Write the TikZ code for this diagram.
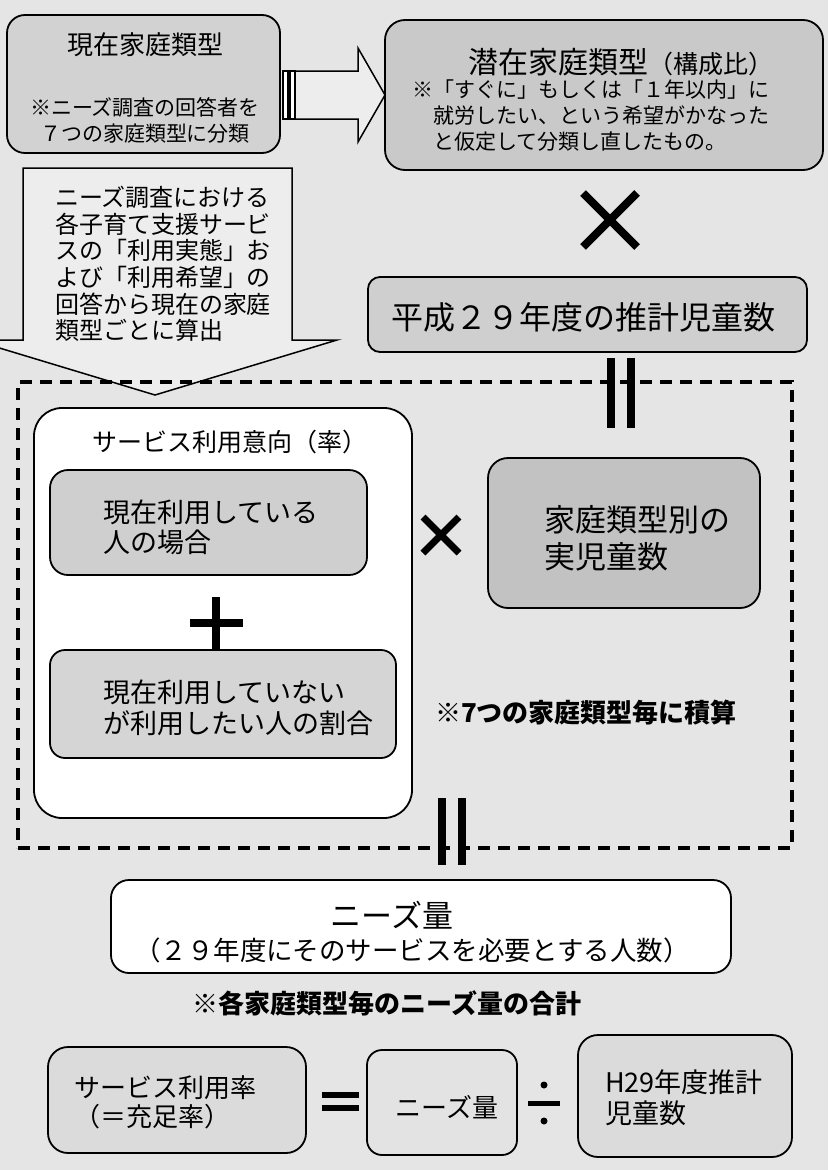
\documentclass[tikz,border=0pt]{standalone}
\usepackage{fontspec}
\setmainfont{Noto Sans CJK JP}
\usetikzlibrary{calc}
\definecolor{bgc}{gray}{0.90}
\begin{document}
\begin{tikzpicture}[x=1pt,y=-1pt,
  bx/.style={draw=black,line width=1.8pt,rounded corners=#1,inner sep=0pt,outer sep=0pt,anchor=north west},
  bx/.default=18pt,
  tx/.style={inner sep=0pt,outer sep=0pt,font=\fontsize{#1pt}{#1pt}\selectfont},
  ml/.style 2 args={inner sep=0pt,outer sep=0pt,font=\fontsize{#1pt}{#2pt}\selectfont},
  nb/.style={inner sep=0pt,outer sep=0pt,font=\fontsize{26pt}{26pt}\selectfont\bfseries},
  op/.style={line width=8pt},
  shp/.style={draw=black,line width=1.5pt,fill=bgc!70!white},
  grpbox/.style={draw=black,line width=3.5pt,dash pattern=on 12pt off 8pt,inner sep=0pt,outer sep=0pt,anchor=north west}
]
\useasboundingbox (0,0) rectangle (828,1170);
\fill[bgc] (0,0) rectangle (828,1170);
\begin{scope}
\clip (0,0) rectangle (828,1170);

% top boxes
\node[bx=18pt, fill=gray!35, minimum width=273pt, minimum height=138pt] (b1) at (7,15) {};
\node[tx=26] (t1) at (145,45) {現在家庭類型};
\node[ml={21}{26}, align=center] (t1s) at (145,120) {※ニーズ調査の回答者を\\７つの家庭類型に分類};

\node[bx=20pt, fill=gray!42, minimum width=438pt, minimum height=150pt] (b2) at (385,20) {};
\node[tx=30] (t2) at (621,62) {潜在家庭類型{\fontsize{25pt}{25pt}\selectfont（構成比）}};
\node[ml={21}{26}, align=left, anchor=west] (t2s) at (412,116) {※「すぐに」もしくは「１年以内」に\\\hspace*{1em}就労したい、という希望がかなった\\\hspace*{1em}と仮定して分類し直したもの。};

% block arrow b1 -> b2
\draw[shp] ($(b2.west)+(-90,-24)$) -- ($(b2.west)+(-27,-24)$) -- ($(b2.west)+(-27,-47)$) -- (b2.west)
  -- ($(b2.west)+(-27,47)$) -- ($(b2.west)+(-27,24)$) -- ($(b2.west)+(-90,24)$) -- cycle;
\draw[draw=black,line width=1.5pt,fill=white] ($(b2.west)+(-102,-24)$) rectangle ($(b2.west)+(-97,24)$)
  ($(b2.west)+(-95,-24)$) rectangle ($(b2.west)+(-90,24)$);

% times sign
\draw[op] (583,193) -- (637,247) (583,247) -- (637,193);

\node[bx=12pt, fill=gray!38, minimum width=439pt, minimum height=75pt] (b3) at (368,277) {};
\node[tx=32] (t3) at (583,317) {平成２９年度の推計児童数};

% callout
\draw[shp] (23,340) -- (23,168) -- (292,168) -- (292,340) -- (337,340) -- (155,395) -- (-27,340) -- cycle;
\node[ml={24}{26.6}, align=left, anchor=west] (tc) at (55,264) {ニーズ調査における\\各子育て支援サービ\\スの「利用実態」お\\よび「利用希望」の\\回答から現在の家庭\\類型ごとに算出};

% dashed group
\node[grpbox, minimum width=774pt, minimum height=466pt] (grp) at (18,382) {};

% equals bars (upper)
\draw[op] (611,358) -- (611,428) (631,358) -- (631,428);

% inner boxes
\node[bx=28pt, fill=white, minimum width=378pt, minimum height=410pt] (b4) at (34,408) {};
\node[tx=25] (t4) at (230,442) {サービス利用意向（率）};

\node[bx=18pt, fill=gray!38, minimum width=317pt, minimum height=105pt] (b5) at (50,470) {};
\node[ml={27}{30}, align=left, anchor=west] (t5) at (103,527) {現在利用している\\人の場合};

\draw[op] (216,597) -- (216,650) (190,623) -- (243,623);

\node[bx=15pt, fill=gray!33, minimum width=346pt, minimum height=108pt] (b6) at (50,650) {};
\node[ml={27}{31}, align=left, anchor=west] (t6) at (103,707.5) {現在利用していない\\が利用したい人の割合};

\draw[line width=7pt] (423,517) -- (459,553) (423,553) -- (459,517);

\node[bx=20pt, fill=gray!48, minimum width=272pt, minimum height=150pt] (b7) at (488,458) {};
\node[ml={31}{37}, align=left, anchor=west] (t7) at (544,538.5) {家庭類型別の\\実児童数};

\node[nb] (n1) at (586,713) {※7つの家庭類型毎に積算};

% equals bars (lower)
\draw[op] (442,798) -- (442,865) (462,798) -- (462,865);

\node[bx=18pt, fill=white, minimum width=620pt, minimum height=93pt] (b8) at (111,880) {};
\node[tx=31] (t8) at (392,915) {ニーズ量};
\node[tx=26.5] (t8s) at (412,950) {（２９年度にそのサービスを必要とする人数）};

\node[nb] (n2) at (387,1003) {※各家庭類型毎のニーズ量の合計};

% bottom formula
\node[bx=20pt, fill=gray!28, minimum width=258pt, minimum height=106pt] (bA) at (48,1047) {};
\node[ml={26}{29}, align=left, anchor=west] (tA) at (74,1102.5) {サービス利用率\\（＝充足率）};
\draw[line width=6pt] (322,1095) -- (359,1095) (322,1108) -- (359,1108);
\node[bx=15pt, fill=gray!22, minimum width=150pt, minimum height=105pt] (bB) at (367,1050) {};
\node[tx=26] (tB) at (447,1107) {ニーズ量};
\draw[line width=5pt] (528,1103) -- (560,1103);
\fill (544,1085) circle (3.5);
\fill (544,1121) circle (3.5);
\node[bx=20pt, fill=gray!28, minimum width=214pt, minimum height=122pt] (bC) at (578,1035) {};
\node[ml={27}{31}, align=left, anchor=west] (tC) at (605,1097.5) {H29年度推計\\児童数};
\end{scope}
\end{tikzpicture}
\end{document}
